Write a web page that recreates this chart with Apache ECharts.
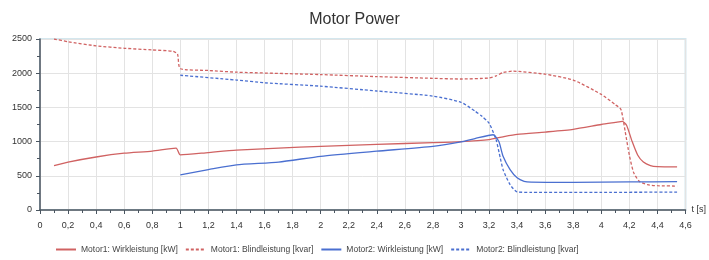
<!DOCTYPE html>
<html>
<head>
<meta charset="utf-8">
<script src="https://cdn.jsdelivr.net/npm/echarts@6/dist/echarts.min.js"></script>
<style>
  html, body { margin: 0; padding: 0; background: #fff; }
  #chart { width: 709px; height: 260px; }
</style>
</head>
<body>
<div id="chart"></div>
<script>
// Zeitachse [s] und Werte je Kurve
var m1WirkT = [0.1, 0.2, 0.4, 0.6, 0.8, 0.97, 1.0, 1.2, 1.4, 1.7, 2.0, 2.4, 2.8, 3.0, 3.2, 3.3, 3.4, 3.6, 3.8, 4.0, 4.1, 4.15, 4.18, 4.22, 4.26, 4.3, 4.35, 4.4, 4.54];
var m1Wirk  = [650, 700, 775, 830, 860, 905, 805, 840, 875, 905, 930, 960, 985, 1000, 1030, 1070, 1105, 1140, 1180, 1250, 1280, 1295, 1240, 1000, 800, 700, 650, 635, 630];

var m1BlindT = [0.1, 0.2, 0.4, 0.6, 0.8, 0.95, 0.98, 1.0, 1.2, 1.4, 2.0, 2.4, 2.8, 3.0, 3.2, 3.25, 3.3, 3.37, 3.6, 3.8, 4.0, 4.1, 4.14, 4.17, 4.2, 4.23, 4.27, 4.33, 4.4, 4.54];
var m1Blind  = [2500, 2460, 2400, 2365, 2340, 2320, 2280, 2065, 2040, 2015, 1980, 1950, 1925, 1915, 1930, 1960, 2010, 2030, 1985, 1900, 1690, 1540, 1470, 1150, 800, 550, 420, 370, 355, 350];

var m2WirkT = [1.0, 1.2, 1.4, 1.7, 2.0, 2.4, 2.8, 3.0, 3.1, 3.23, 3.27, 3.3, 3.35, 3.4, 3.45, 3.5, 3.8, 4.2, 4.54];
var m2Wirk  = [515, 590, 660, 700, 785, 860, 930, 995, 1045, 1100, 1000, 785, 590, 470, 420, 408, 405, 410, 415];

var m2BlindT = [1.0, 1.4, 1.6, 2.0, 2.4, 2.8, 3.0, 3.1, 3.15, 3.2, 3.25, 3.28, 3.3, 3.35, 3.4, 3.5, 4.0, 4.54];
var m2Blind  = [1970, 1900, 1860, 1810, 1740, 1665, 1575, 1445, 1370, 1270, 1030, 760, 590, 370, 265, 258, 258, 262];

var seriesNames = ['Motor1: Wirkleistung [kW]', 'Motor1: Blindleistung [kvar]', 'Motor2: Wirkleistung [kW]', 'Motor2: Blindleistung [kvar]'];

function pairs(t, v) {
  return t.map(function (x, i) { return [x, v[i]]; });
}
function komma(v) {
  return String(Math.round(v * 10) / 10).replace('.', ',');
}

var red = '#d06262';
var blue = '#4a6fd0';

var chart = echarts.init(document.getElementById('chart'));
chart.setOption({
  animation: false,
  title: {
    text: 'Motor Power',
    left: 'center',
    top: 7,
    textStyle: { fontFamily: 'Liberation Sans', fontSize: 16, fontWeight: 'normal', color: '#333' }
  },
  legend: {
    bottom: 1,
    left: 50,
    itemWidth: 20,
    itemHeight: 10,
    itemGap: 7,
    itemStyle: { opacity: 0 },
    textStyle: { fontFamily: 'Liberation Sans', fontSize: 8.5, color: '#444' },
    data: seriesNames
  },
  grid: {
    left: 40,
    right: 15,
    top: 39,
    bottom: 50,
    show: true,
    borderColor: '#d4e7ee',
    borderWidth: 2
  },
  xAxis: {
    type: 'value',
    min: 0,
    max: 4.6,
    interval: 0.2,
    name: 't [s]',
    nameGap: 6,
    nameTextStyle: { fontFamily: 'Liberation Sans', fontSize: 9, color: '#333' },
    axisLine: { lineStyle: { color: '#4a5560', width: 1.5 } },
    axisTick: { show: true, length: 4, lineStyle: { color: '#4a5560' } },
    minorTick: { show: true, splitNumber: 2, length: 3, lineStyle: { color: '#4a5560' } },
    axisLabel: { fontFamily: 'Liberation Sans', fontSize: 9, color: '#333', formatter: komma, margin: 11 },
    splitLine: { show: true, lineStyle: { color: '#e3e3e3', width: 1 } }
  },
  yAxis: {
    type: 'value',
    min: 0,
    max: 2500,
    interval: 500,
    axisLine: { show: true, lineStyle: { color: '#4a5560', width: 1.5 } },
    axisTick: { show: true, length: 4, lineStyle: { color: '#4a5560' } },
    minorTick: { show: true, splitNumber: 2, length: 3, lineStyle: { color: '#4a5560' } },
    axisLabel: { fontFamily: 'Liberation Sans', fontSize: 9, color: '#333', margin: 8, formatter: function (v) { return String(v); } },
    splitLine: { show: true, lineStyle: { color: '#e3e3e3', width: 1 } }
  },
  series: [
    {
      name: seriesNames[0], type: 'line', symbol: 'none', smooth: 0.2,
      color: red, lineStyle: { width: 1.3, type: 'solid' },
      data: pairs(m1WirkT, m1Wirk)
    },
    {
      name: seriesNames[1], type: 'line', symbol: 'none', smooth: 0.2,
      color: red, lineStyle: { width: 1.3, type: [3, 2] },
      data: pairs(m1BlindT, m1Blind)
    },
    {
      name: seriesNames[2], type: 'line', symbol: 'none', smooth: 0.2,
      color: blue, lineStyle: { width: 1.3, type: 'solid' },
      data: pairs(m2WirkT, m2Wirk)
    },
    {
      name: seriesNames[3], type: 'line', symbol: 'none', smooth: 0.2,
      color: blue, lineStyle: { width: 1.3, type: [3, 2] },
      data: pairs(m2BlindT, m2Blind)
    }
  ]
});
</script>
</body>
</html>
